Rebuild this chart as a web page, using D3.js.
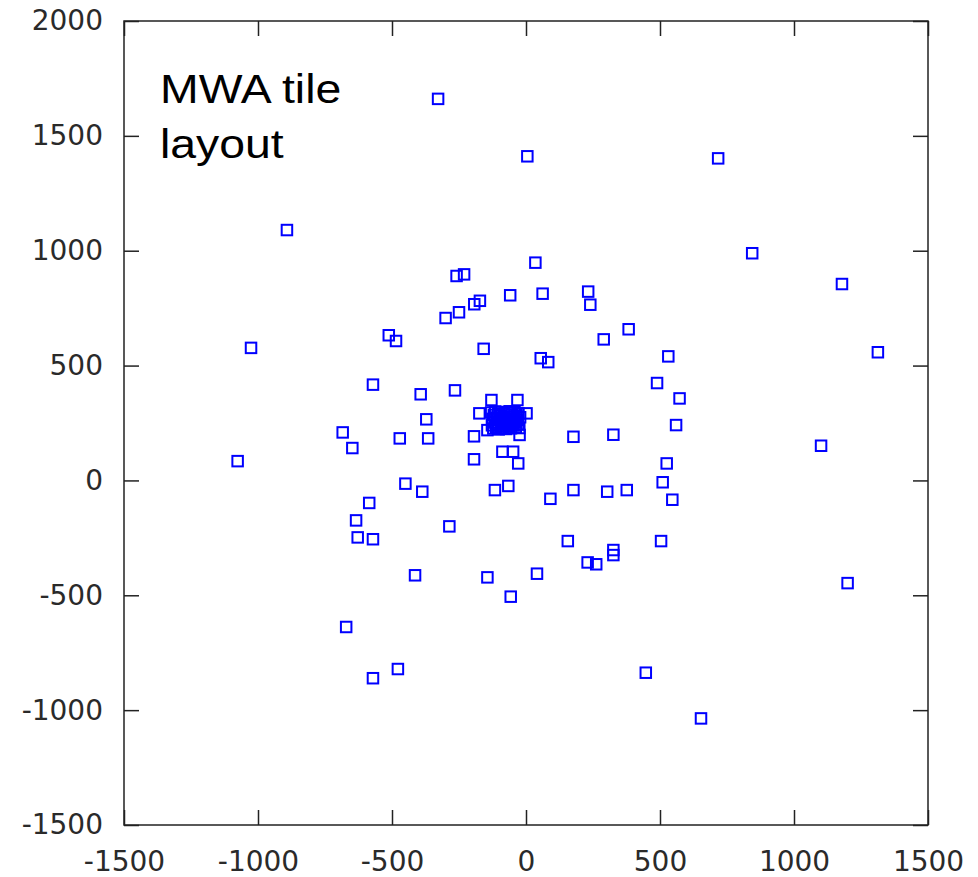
<!DOCTYPE html>
<html>
<head>
<meta charset="utf-8">
<script src="https://cdn.jsdelivr.net/npm/d3@7"></script>
<style>
  body { margin: 0; background: #fff; }
  .tick text { font-family: "DejaVu Sans", sans-serif; font-size: 28px; fill: #2a2a2a; }
  .tick line { stroke: #222; stroke-width: 1.5; }
  #title { font-family: "Liberation Sans", Arial, sans-serif; font-size: 40px; fill: #000; }
</style>
</head>
<body>
<svg width="978" height="877"></svg>
<script>
const svg = d3.select("svg");

// Tile positions (east, north in metres)
const tileX = [
    -328, 5, 717, -892, 844, 1179, -1026, 1313, -1076, 1101,
    1200, -671, -571, -478, 447, 653, -259, -231, 35, -59,
    62, 232, 240, -193, -172, -250, -300, -512, -485, -158,
    383, 290, 55, 83, 531, -571, -393, -265, 489, 573,
    -129, -32, -174, 2, -372, 560, -684, -648, -471, -365,
    -194, -144, -24, 177, 326, -194, -88, -48, -29, 525,
    -450, -387, -116, -66, 510, 177, 303, 376, 546, 91,
    -585, -634, -628, -571, -286, 156, 504, 326, 326, 230,
    262, -414, -144, 41, -57
];
const tileY = [
    1661, 1411, 1402, 1090, 989, 855, 577, 558, 84, 151,
    -447, -638, -861, -821, -837, -1036, 890, 897, 948, 806,
    813, 822, 765, 767, 782, 732, 707, 632, 607, 573,
    658, 614, 532, 515, 540, 417, 375, 392, 424, 357,
    350, 350, 292, 292, 266, 241, 209, 141, 183, 183,
    192, 219, 198, 190, 199, 92, 125, 125, 74, 74,
    -14, -49, -42, -24, -8, -42, -49, -42, -84, -80,
    -98, -174, -248, -256, -200, -264, -264, -303, -325, -357,
    -365, -413, -422, -406, -506
];

// Compact core tiles, which merge into one solid blob
const coreX = [
    -130, -127, -125, -122, -120, -117, -115, -112, -110, -107,
    -104, -102, -99, -97, -94, -92, -89, -87, -84, -81,
    -79, -76, -74, -71, -69, -66, -64, -61, -58, -56,
    -53, -51, -48, -46, -43, -41, -38, -35, -33, -30,
    -28, -25, -22
];
const coreY = [
    296, 240, 268, 226, 285, 252, 300, 233, 274, 246,
    291, 222, 262, 281, 237, 298, 256, 229, 271, 289,
    243, 265, 224, 294, 250, 278, 234, 301, 259, 227,
    286, 248, 270, 239, 297, 255, 231, 283, 264, 244,
    292, 228, 275
];

const tickValuesX = [-1500, -1000, -500, 0, 500, 1000, 1500];
const tickValuesY = [-1500, -1000, -500, 0, 500, 1000, 1500, 2000];

const titleLines = ["MWA tile", "layout"];

// Plot area edges
const plotLeft = 124, plotRight = 928, plotTop = 21, plotBottom = 825;

const xScale = d3.scaleLinear().domain([-1500, 1500]).range([plotLeft, plotRight]);
const yScale = d3.scaleLinear().domain([-1500, 2000]).range([plotBottom, plotTop]);

const tiles = tileX.map((x, i) => ({ x: x, y: tileY[i] }))
    .concat(coreX.map((x, i) => ({ x: x, y: coreY[i] })));

// Plain hyphen for negatives, like the original
const fmt = d => String(d);

// Axes with inward ticks, gnuplot style
const axisBottom = d3.axisBottom(xScale).tickValues(tickValuesX)
    .tickSizeInner(-15).tickSizeOuter(0).tickPadding(26).tickFormat(fmt);
const axisTop = d3.axisTop(xScale).tickValues(tickValuesX)
    .tickSizeInner(-15).tickSizeOuter(0).tickFormat("");
const axisLeft = d3.axisLeft(yScale).tickValues(tickValuesY)
    .tickSizeInner(-15).tickSizeOuter(0).tickPadding(21).tickFormat(fmt);
const axisRight = d3.axisRight(yScale).tickValues(tickValuesY)
    .tickSizeInner(-15).tickSizeOuter(0).tickFormat("");

svg.append("g").attr("transform", `translate(0,${plotBottom})`).call(axisBottom);
svg.append("g").attr("transform", `translate(0,${plotTop})`).call(axisTop);
svg.append("g").attr("transform", `translate(${plotLeft},0)`).call(axisLeft);
svg.append("g").attr("transform", `translate(${plotRight},0)`).call(axisRight);

svg.selectAll(".domain").remove();
svg.selectAll("g").attr("font-family", null).attr("font-size", null);

// Frame
svg.append("rect")
    .attr("x", plotLeft).attr("y", plotTop)
    .attr("width", plotRight - plotLeft).attr("height", plotBottom - plotTop)
    .attr("fill", "none")
    .attr("stroke", "#222")
    .attr("stroke-width", 1.5);

// Tile markers: open blue squares
const side = 10.5;
svg.append("g").selectAll("rect").data(tiles)
    .enter().append("rect")
    .attr("x", d => xScale(d.x) - side / 2)
    .attr("y", d => yScale(d.y) - side / 2)
    .attr("width", side)
    .attr("height", side)
    .attr("fill", "none")
    .attr("stroke", "#0000ff")
    .attr("stroke-width", 2);

// Title inside the plot
const title = svg.append("text")
    .attr("id", "title")
    .attr("transform", "translate(160,103) scale(1.16,1)");
title.selectAll("tspan").data(titleLines)
    .enter().append("tspan")
    .attr("x", 0)
    .attr("dy", (d, i) => i === 0 ? 0 : 55)
    .text(d => d);
</script>
</body>
</html>
